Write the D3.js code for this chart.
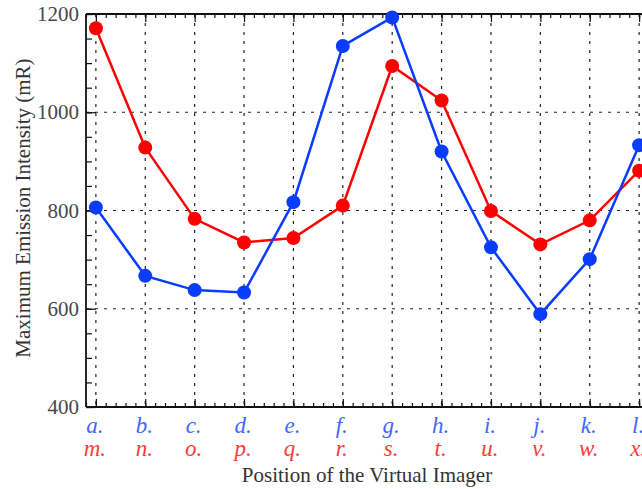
<!DOCTYPE html>
<html>
<head>
<meta charset="utf-8">
<script src="https://cdn.jsdelivr.net/npm/d3@7"></script>
<style>
  body { margin: 0; background: #fff; }
  text { font-family: "Liberation Serif", "DejaVu Serif", serif; }
</style>
</head>
<body>
<svg width="642" height="489"></svg>
<script>
var svg = d3.select("svg"),
    width = +svg.attr("width"),
    height = +svg.attr("height");

// positions along x (1..12)
var positions = [1, 2, 3, 4, 5, 6, 7, 8, 9, 10, 11, 12];
var blueLabels = ["a.", "b.", "c.", "d.", "e.", "f.", "g.", "h.", "i.", "j.", "k.", "l."];
var redLabels = ["m.", "n.", "o.", "p.", "q.", "r.", "s.", "t.", "u.", "v.", "w.", "x."];
var blueValues = [806, 667, 638, 633, 817, 1135, 1193, 920, 725, 589, 701, 933];
var redValues = [1171, 928, 783, 735, 744, 810, 1094, 1024, 799, 731, 780, 881];
var yTicks = [400, 600, 800, 1000, 1200];

var x = d3.scaleLinear().domain([0.8, 12.2]).range([86, 649]);
var y = d3.scaleLinear().domain([400, 1200]).range([407, 14]);

var blueLine = "#0a3cff", redLine = "#ff0000";
var blueText = "#3f66ff", redText = "#ff3a3a";

// grid
var grid = svg.append("g")
    .style("stroke", "#222")
    .style("stroke-width", "1.2px")
    .style("stroke-dasharray", "3,6");

grid.selectAll("line.v")
    .data(positions)
  .enter().append("line")
    .attr("class", "v")
    .attr("x1", d => x(d)).attr("x2", d => x(d))
    .attr("y1", y(1200)).attr("y2", y(400));

grid.selectAll("line.h")
    .data([600, 800, 1000])
  .enter().append("line")
    .attr("class", "h")
    .attr("x1", x(0.8)).attr("x2", x(12.2))
    .attr("y1", d => y(d)).attr("y2", d => y(d));

// axes
var minorX = d3.range(0, 58).map(i => 0.8 + i * 0.2).filter(v => v <= 12.2);
var minorY = d3.range(400, 1201, 50);

var axes = svg.append("g").style("stroke", "#111");

function tickAxis(sel, axis) {
  sel.call(axis);
  sel.select(".domain").remove();
  sel.selectAll(".tick line").style("stroke", "#111").style("stroke-width", "1.2px");
  sel.selectAll(".tick text").remove();
}

axes.append("g")
    .attr("transform", "translate(0," + y(400) + ")")
    .call(g => tickAxis(g, d3.axisTop(x).tickValues(minorX).tickSize(4)));
axes.append("g")
    .attr("transform", "translate(0," + y(400) + ")")
    .call(g => tickAxis(g, d3.axisTop(x).tickValues(positions).tickSize(8)));
axes.append("g")
    .attr("transform", "translate(0," + y(1200) + ")")
    .call(g => tickAxis(g, d3.axisBottom(x).tickValues(minorX).tickSize(4)));
axes.append("g")
    .attr("transform", "translate(0," + y(1200) + ")")
    .call(g => tickAxis(g, d3.axisBottom(x).tickValues(positions).tickSize(8)));
axes.append("g")
    .attr("transform", "translate(" + x(0.8) + ",0)")
    .call(g => tickAxis(g, d3.axisRight(y).tickValues(minorY).tickSize(6)));
axes.append("g")
    .attr("transform", "translate(" + x(0.8) + ",0)")
    .call(g => tickAxis(g, d3.axisRight(y).tickValues(yTicks).tickSize(10)));

axes.append("line")
    .attr("x1", x(0.8)).attr("x2", x(12.2))
    .attr("y1", y(400)).attr("y2", y(400))
    .style("stroke-width", "1.8px");
axes.append("line")
    .attr("x1", x(0.8)).attr("x2", x(12.2))
    .attr("y1", y(1200)).attr("y2", y(1200))
    .style("stroke-width", "1.8px");
axes.append("line")
    .attr("x1", x(0.8)).attr("x2", x(0.8))
    .attr("y1", y(1200)).attr("y2", y(400))
    .style("stroke-width", "1.8px");

// y tick labels
svg.append("g").selectAll("text")
    .data(yTicks)
  .enter().append("text")
    .attr("x", 79)
    .attr("y", d => y(d) + 7)
    .attr("text-anchor", "end")
    .style("font-size", "21px")
    .style("fill", "#484848")
    .text(d => d);

// category labels
svg.append("g").selectAll("text")
    .data(positions)
  .enter().append("text")
    .attr("x", d => x(d) - 1)
    .attr("y", 433)
    .attr("text-anchor", "middle")
    .style("font-size", "23px")
    .style("font-style", "italic")
    .style("fill", blueText)
    .text((d, i) => blueLabels[i]);

svg.append("g").selectAll("text")
    .data(positions)
  .enter().append("text")
    .attr("x", d => x(d) - 1)
    .attr("y", 456)
    .attr("text-anchor", "middle")
    .style("font-size", "23px")
    .style("font-style", "italic")
    .style("fill", redText)
    .text((d, i) => redLabels[i]);

// axis titles
svg.append("text")
    .attr("x", 367)
    .attr("y", 482)
    .attr("text-anchor", "middle")
    .style("font-size", "21px")
    .style("fill", "#333")
    .text("Position of the Virtual Imager");

svg.append("text")
    .attr("transform", "translate(30," + 208 + ") rotate(-90)")
    .attr("text-anchor", "middle")
    .style("font-size", "21px")
    .style("fill", "#333")
    .text("Maximum Emission Intensity (mR)");

// series
function drawSeries(values, color) {
  var line = d3.line()
      .x((d, i) => x(positions[i]))
      .y(d => y(d));

  var g = svg.append("g");
  g.append("path")
      .datum(values)
      .attr("d", line)
      .style("fill", "none")
      .style("stroke", color)
      .style("stroke-width", "2.5px");

  g.selectAll("circle")
      .data(values)
    .enter().append("circle")
      .attr("cx", (d, i) => x(positions[i]))
      .attr("cy", d => y(d))
      .attr("r", 7)
      .style("fill", color);
}

drawSeries(redValues, redLine);
drawSeries(blueValues, blueLine);
</script>
</body>
</html>
